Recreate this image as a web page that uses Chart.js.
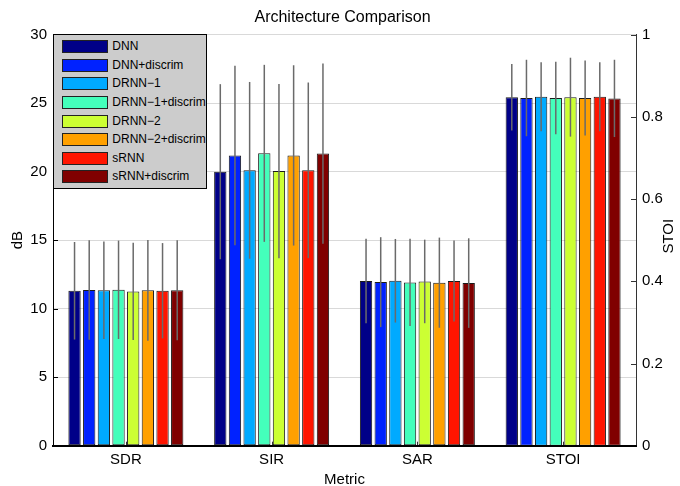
<!DOCTYPE html>
<html><head><meta charset="utf-8">
<script src="https://cdn.jsdelivr.net/npm/chart.js@4.4.0/dist/chart.umd.min.js"></script>
<style>
html,body{margin:0;padding:0;background:#fff;}
#wrap{position:relative;width:680px;height:486px;}
#legend{position:absolute;left:53px;top:34px;width:154px;height:155px;background:#cccccc;border:1px solid #000;box-sizing:border-box;font-family:"Liberation Sans",Arial,Helvetica,sans-serif;font-size:12px;color:#000;}
.sw{position:absolute;left:7.7px;width:46px;height:13px;box-sizing:border-box;border:1px solid #222;}
.lb{position:absolute;left:58.3px;height:13px;line-height:13px;white-space:nowrap;}
</style></head>
<body>
<div id="wrap">
<canvas id="c" width="680" height="486"></canvas>
<div id="legend"></div>
</div>
<script>
// ---- data ----
const metrics = ['SDR', 'SIR', 'SAR', 'STOI'];
const seriesNames = ['DNN', 'DNN+discrim', 'DRNN\u22121', 'DRNN\u22121+discrim', 'DRNN\u22122', 'DRNN\u22122+discrim', 'sRNN', 'sRNN+discrim'];
const seriesColors = ['#000088', '#0022ff', '#00aaff', '#44ffbb', '#ccff33', '#ffa000', '#ff1500', '#800000'];
const sdr     = [11.31, 11.36, 11.34, 11.38, 11.26, 11.34, 11.31, 11.34];
const sdrErr  = [3.56, 3.63, 3.56, 3.59, 3.55, 3.68, 3.48, 3.65];
const sir     = [20.00, 21.19, 20.10, 21.34, 20.05, 21.19, 20.10, 21.32];
const sirErr  = [6.39, 6.55, 6.45, 6.46, 6.36, 6.58, 6.41, 6.57];
const sar     = [12.02, 11.94, 12.04, 11.92, 11.99, 11.90, 12.02, 11.87];
const sarErr  = [3.08, 3.28, 3.05, 3.19, 3.05, 3.29, 2.95, 3.27];
const stoi    = [0.848, 0.846, 0.849, 0.846, 0.848, 0.846, 0.849, 0.845];
const stoiErr = [0.081, 0.093, 0.084, 0.088, 0.096, 0.091, 0.084, 0.094];

const FONT = '"Liberation Sans", Arial, Helvetica, sans-serif';

// ---- legend (HTML) ----
const leg = document.getElementById('legend');
seriesNames.forEach((n, k) => {
  const top = 5.2 + 18.6 * k;
  const sw = document.createElement('div');
  sw.className = 'sw'; sw.style.top = top + 'px'; sw.style.background = seriesColors[k];
  const lb = document.createElement('div');
  lb.className = 'lb'; lb.style.top = top + 'px'; lb.textContent = n;
  leg.appendChild(sw); leg.appendChild(lb);
});

// ---- datasets ----
const datasets = [];
seriesNames.forEach((n, k) => {
  datasets.push({
    label: n, yAxisID: 'y',
    data: [sdr[k], sir[k], sar[k], null],
    errors: [sdrErr[k], sirErr[k], sarErr[k], null],
    backgroundColor: seriesColors[k], borderColor: '#1a1a1a', borderWidth: 1, borderSkipped: false
  });
});
seriesNames.forEach((n, k) => {
  datasets.push({
    label: n + ' STOI', yAxisID: 'y2',
    data: [null, null, null, stoi[k]],
    errors: [null, null, null, stoiErr[k]],
    backgroundColor: seriesColors[k], borderColor: '#1a1a1a', borderWidth: 1, borderSkipped: false
  });
});

const extras = {
  id: 'extras',
  afterDatasetsDraw(chart) {
    const ctx = chart.ctx;
    ctx.save();
    ctx.strokeStyle = '#6a6a6a';
    ctx.lineWidth = 1.5;
    chart.data.datasets.forEach((ds, i) => {
      const meta = chart.getDatasetMeta(i);
      const sc = chart.scales[meta.yAxisID];
      meta.data.forEach((el, j) => {
        const v = ds.data[j], e = ds.errors[j];
        if (v == null || e == null) return;
        ctx.beginPath();
        ctx.moveTo(el.x, sc.getPixelForValue(v + e));
        ctx.lineTo(el.x, sc.getPixelForValue(v - e));
        ctx.stroke();
      });
    });
    // inward tick marks
    const a = chart.chartArea;
    ctx.strokeStyle = '#000';
    ctx.lineWidth = 1;
    chart.scales.y.ticks.forEach(t => {
      const py = Math.round(chart.scales.y.getPixelForValue(t.value)) + 0.5;
      ctx.beginPath(); ctx.moveTo(a.left, py); ctx.lineTo(a.left + 5, py); ctx.stroke();
    });
    ctx.strokeStyle = '#333';
    chart.scales.y2.ticks.forEach(t => {
      const py = Math.round(chart.scales.y2.getPixelForValue(t.value)) + 0.5;
      ctx.beginPath(); ctx.moveTo(a.right - 5, py); ctx.lineTo(a.right, py); ctx.stroke();
    });
    chart.scales.x.ticks.forEach((t, i) => {
      const px = Math.round(chart.scales.x.getPixelForTick(i)) + 0.5;
      ctx.beginPath(); ctx.moveTo(px, a.bottom); ctx.lineTo(px, a.bottom - 4); ctx.stroke();
    });
    ctx.restore();
  },
  afterDraw(chart) {
    const ctx = chart.ctx, a = chart.chartArea;
    ctx.save();
    ctx.translate(a.right + 33, (a.top + a.bottom) / 2 - 4);
    ctx.rotate(-Math.PI / 2);
    ctx.font = '15px ' + FONT;
    ctx.fillStyle = '#000';
    ctx.textAlign = 'center';
    ctx.textBaseline = 'middle';
    ctx.fillText('STOI', 0, 0);
    ctx.restore();
  }
};

new Chart(document.getElementById('c'), {
  type: 'bar',
  data: { labels: metrics, datasets },
  options: {
    responsive: false,
    animation: false,
    skipNull: true,
    categoryPercentage: 0.805,
    barPercentage: 0.84,
    layout: { padding: { left: 5, right: 0, top: 0, bottom: -3 } },
    plugins: {
      legend: { display: false },
      tooltip: { enabled: false },
      title: {
        display: true, text: 'Architecture Comparison', color: '#000',
        font: { family: FONT, size: 16, weight: 'normal' },
        padding: { top: 7.5, bottom: 8 }
      }
    },
    scales: {
      x: {
        type: 'category', offset: true,
        grid: { display: false, drawTicks: false },
        border: { display: true, color: '#000', width: 2, z: 1 },
        ticks: { color: '#000', font: { family: FONT, size: 15 }, padding: 5 },
        title: { display: true, text: 'Metric', color: '#000', font: { family: FONT, size: 15 }, padding: 0 },
        afterFit: s => { s.height = 43.3; }
      },
      y: {
        position: 'left', min: 0, max: 30,
        ticks: { stepSize: 5, color: '#000', font: { family: FONT, size: 15 }, padding: 6 },
        grid: { color: '#d9d9d9', lineWidth: 1, drawTicks: false },
        border: { display: true, color: '#000', width: 1 },
        title: { display: true, text: 'dB', color: '#000', font: { family: FONT, size: 15 } },
        afterFit: s => { s.width = 48; }
      },
      y2: {
        position: 'right', min: 0, max: 1,
        ticks: { stepSize: 0.2, color: '#000', font: { family: FONT, size: 15 }, padding: 6,
                 callback: v => String(+v.toFixed(1)) },
        grid: { display: false, drawTicks: false },
        border: { display: true, color: '#333', width: 1 },
        afterFit: s => { s.width = 44; }
      }
    }
  },
  plugins: [extras]
});
</script>
</body></html>
